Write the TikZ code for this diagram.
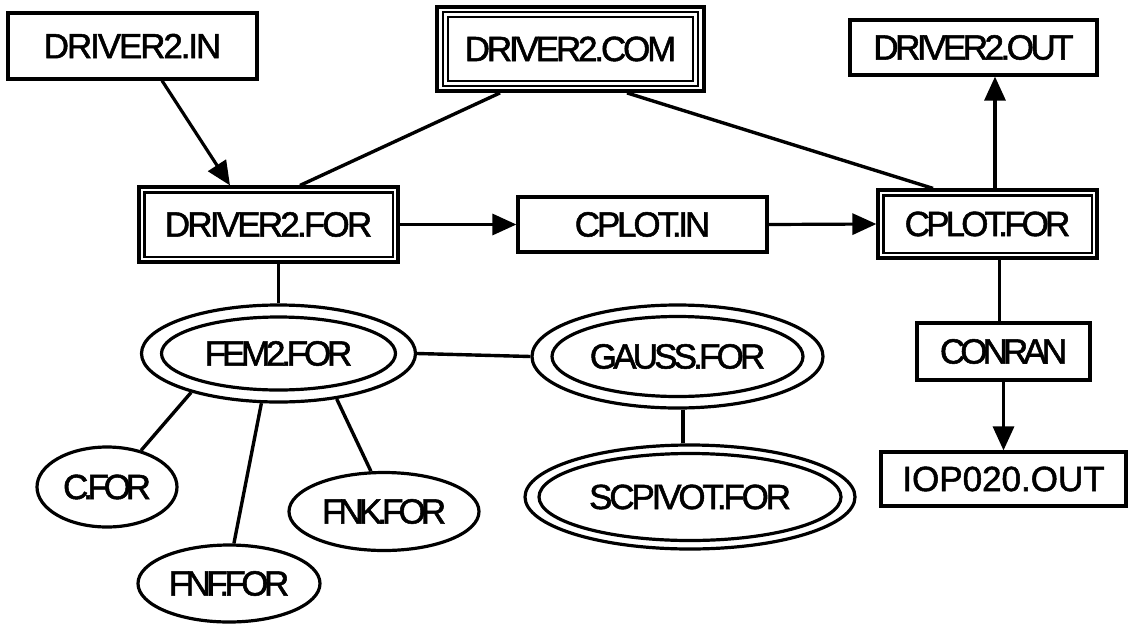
\documentclass[tikz,border=0pt]{standalone}
\usepackage{fontspec}
\newfontfamily\lblfont{Liberation Sans}[FakeBold=1.5]
\usetikzlibrary{arrows.meta,shapes.geometric,calc}

\begin{document}
\begin{tikzpicture}[x=1pt,y=-1pt,
  lbl/.style={font=\lblfont\fontsize{35}{40}\selectfont\addfontfeature{LetterSpace=#1}},
  box/.style={draw,rectangle,line width=3.2pt,inner sep=0pt},
  oval/.style={draw,ellipse,line width=3.2pt,inner sep=0pt},
  rim/.style={line width=2.2pt},
  orim/.style={line width=3.2pt},
  link/.style={line width=3.4pt},
  flow/.style={line width=3.2pt,-{Triangle[length=24pt,width=21pt]}}]
\useasboundingbox (0,0) rectangle (1129,624);

% rectangular files
\node[box,lbl=-6,minimum width=249pt,minimum height=66pt] (din) at (132.5,46) {DRIVER2.IN};
\node[box,line width=3.8pt,lbl=-9,minimum width=267pt,minimum height=84pt] (dcom) at (570.5,49) {DRIVER2.COM};
\node[box,lbl=-10,minimum width=247pt,minimum height=55pt] (dout) at (973.5,47.5) {DRIVER2.OUT};
\node[box,lbl=-8,minimum width=259pt,minimum height=75pt] (dfor) at (268.5,224.5) {DRIVER2.FOR};
\node[box,lbl=-9,minimum width=249pt,minimum height=55pt] (cin) at (642.5,224.5) {CPLOT.IN};
\node[box,lbl=-11,minimum width=219pt,minimum height=68pt] (cfor) at (987.5,224) {CPLOT.FOR};
\node[box,lbl=-14,minimum width=173pt,minimum height=57pt] (conran) at (1003.5,351.5) {CONRAN};
\node[box,lbl=0,minimum width=245pt,minimum height=54pt] (iop) at (1003.5,479) {IOP020.OUT};

% inner frames of the main programs
\draw[rim] ($(dcom.north west)+(8,7)$) rectangle ($(dcom.south east)+(-8,-7)$);
\draw[rim] ($(dcom.north west)+(13,12)$) rectangle ($(dcom.south east)+(-13,-12)$);
\draw[rim] ($(dfor.north west)+(7,7)$) rectangle ($(dfor.south east)+(-7,-7)$);
\draw[rim] ($(cfor.north west)+(7,7)$) rectangle ($(cfor.south east)+(-7,-7)$);

% subroutine files
\node[oval,lbl=-12,minimum width=274pt,minimum height=97pt] (fem2) at (278.5,353.5) {FEM2.FOR};
\node[oval,lbl=-11,minimum width=291pt,minimum height=103pt] (gauss) at (677.5,356.5) {GAUSS.FOR};
\node[oval,lbl=-9,minimum width=330pt,minimum height=104pt] (scp) at (690,497) {SCPIVOT.FOR};
\node[oval,lbl=-15,minimum width=140pt,minimum height=80pt] (cdot) at (107,487) {C.FOR};
\node[oval,lbl=-13,minimum width=182pt,minimum height=77pt] (fnf) at (229,583.5) {FNF.FOR};
\node[oval,lbl=-14,minimum width=190pt,minimum height=78pt] (fnk) at (384,511.5) {FNK.FOR};

\draw[orim] (fem2.center) ellipse [x radius=117pt,y radius=36.5pt];
\draw[orim] (gauss.center) ellipse [x radius=125.5pt,y radius=40pt];
\draw[orim] (scp.center) ellipse [x radius=151pt,y radius=43.5pt];

% connections
\draw[flow] ([xshift=29.5pt]din.south) -- ([xshift=-38.5pt]dfor.north);
\draw[link] ([xshift=-70.5pt]dcom.south) -- ([xshift=31.5pt]dfor.north);
\draw[link] ([xshift=56.5pt]dcom.south) -- ([xshift=-54.5pt]cfor.north);
\draw[flow] ([xshift=7.5pt]cfor.north) -- ([xshift=7.5pt]cfor.north |- dout.south);
\draw[flow] (dfor.east) -- (cin.west);
\draw[flow] (cin.east) -- (cfor.west);
\draw[link] ([xshift=-4pt]conran.north) -- ([xshift=-4pt]conran.north |- cfor.south);
\draw[flow] (conran.south) -- (iop.north);

\draw[link] (fem2.north) -- (fem2.north |- dfor.south);
\draw[link] (fem2.east) -- (gauss.west);
\draw[link] ([xshift=5.5pt]gauss.south) -- ([xshift=5.5pt]gauss.south |- scp.north);
\draw[link] (fem2.-156) -- (cdot.47);
\draw[link] (fem2.-109.5) -- (fnf.83);
\draw[link] (fem2.-38) -- (fnk.108);
\end{tikzpicture}
\end{document}
